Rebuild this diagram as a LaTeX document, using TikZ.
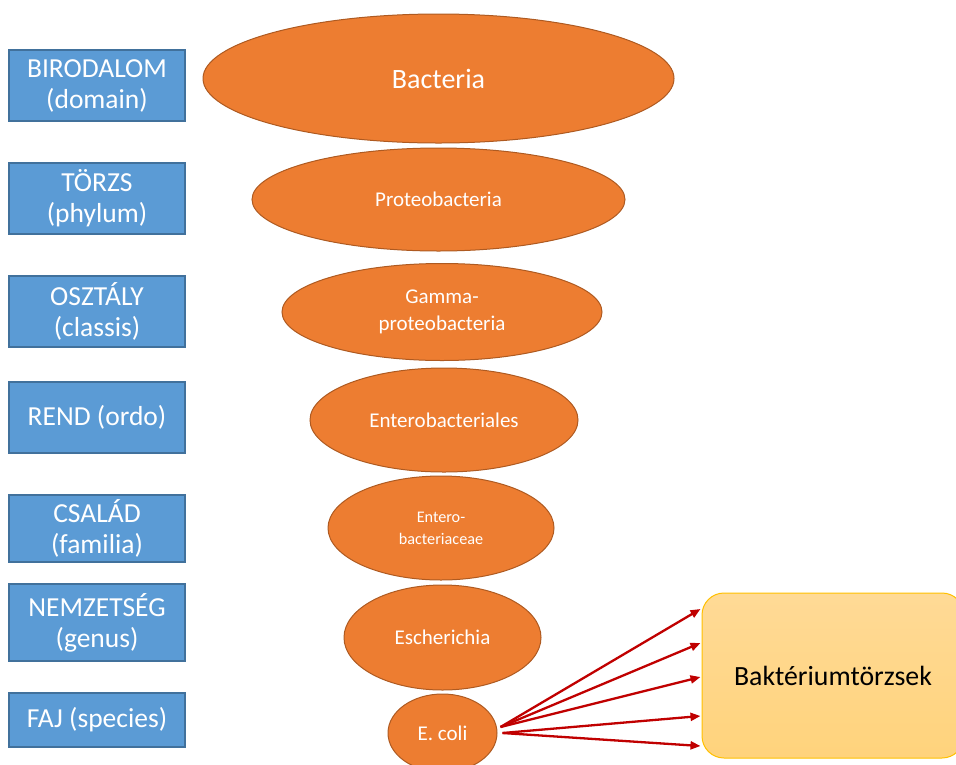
\documentclass[tikz,border=0pt]{standalone}
\usepackage{fontspec}
\setmainfont{Carlito}
\usetikzlibrary{shapes.geometric,arrows.meta,calc}
\definecolor{rankfill}{HTML}{5B9BD5}
\definecolor{rankline}{HTML}{41719C}
\definecolor{taxfill}{HTML}{ED7D31}
\definecolor{taxline}{HTML}{AE5A21}
\definecolor{strainline}{HTML}{FFC000}
\definecolor{straintop}{HTML}{FFDA96}
\definecolor{strainbot}{HTML}{FFD37C}
\definecolor{arrowred}{HTML}{C00000}
\tikzset{
  rankbox/.style={draw=rankline, fill=rankfill, line width=1.3pt, text=white,
    minimum width=176pt, inner sep=0pt, align=center,
    font=\fontsize{27.5}{31}\selectfont},
  taxon/.style={ellipse, draw=taxline, fill=taxfill, line width=1pt, text=white,
    inner sep=0pt, align=center, font=\fontsize{21}{27}\selectfont},
  strainbox/.style={draw=strainline, line width=1pt, top color=straintop,
    bottom color=strainbot, rounded corners=22pt, inner sep=0pt,
    minimum width=262pt, minimum height=165pt,
    font=\fontsize{27.8}{31}\selectfont},
  branch/.style={draw=arrowred, line width=2.3pt,
    -{Triangle[length=10pt,width=8pt]}}
}
\begin{document}
\begin{tikzpicture}[x=1pt,y=-1pt]
\useasboundingbox (0,0) rectangle (956,764);

% taxonomic ranks
\node[rankbox, minimum height=71pt] (r1) at (97,85.5) {BIRODALOM\\(domain)};
\node[rankbox, minimum height=71pt] (r2) at (97,198.5) {TÖRZS\\(phylum)};
\node[rankbox, minimum height=71pt] (r3) at (97,311.5) {OSZTÁLY\\(classis)};
\node[rankbox, minimum height=71pt] (r4) at (97,417.5) {REND (ordo)};
\node[rankbox, minimum height=67pt] (r5) at (97,528.5) {CSALÁD\\(familia)};
\node[rankbox, minimum height=77pt] (r6) at (97,622.5) {NEMZETSÉG\\(genus)};
\node[rankbox, minimum height=54pt] (r7) at (97,720) {FAJ (species)};

% lineage of E. coli
\node[taxon, minimum width=471pt, minimum height=129pt, font=\fontsize{28}{32}\selectfont]
  (t1) at (438.5,78.5) {Bacteria};
\node[taxon, minimum width=373pt, minimum height=103pt] (t2) at (438.5,199.5) {Proteobacteria};
\node[taxon, minimum width=320pt, minimum height=97pt] (t3) at (442,312) {Gamma-\\proteobacteria};
\node[taxon, minimum width=268pt, minimum height=104pt] (t4) at (444,420) {Enterobacteriales};
\node[taxon, minimum width=226pt, minimum height=104pt, font=\fontsize{16.2}{22}\selectfont]
  (t5) at (441,528) {Entero-\\bacteriaceae};
\node[taxon, minimum width=197pt, minimum height=105pt] (t6) at (442.5,637.5) {Escherichia};
\node[taxon, minimum width=109pt, minimum height=78pt] (t7) at (442.5,733) {E. coli};

% strains
\node[strainbox] (s) at (833,675.5) {Baktériumtörzsek};

\coordinate (o1) at ($(t7.east)+(3,-6)$);
\coordinate (o2) at ($(t7.east)+(5,0)$);
\draw[branch] (o1) -- ($(s.west)+(-1,-66.5)$);
\draw[branch] (o1) -- ($(s.west)+(-1,-32.5)$);
\draw[branch] (o1) -- ($(s.west)+(-1,1.5)$);
\draw[branch] (o2) -- ($(s.west)+(-1,40.5)$);
\draw[branch] (o2) -- ($(s.west)+(-1,70.5)$);
\end{tikzpicture}
\end{document}
